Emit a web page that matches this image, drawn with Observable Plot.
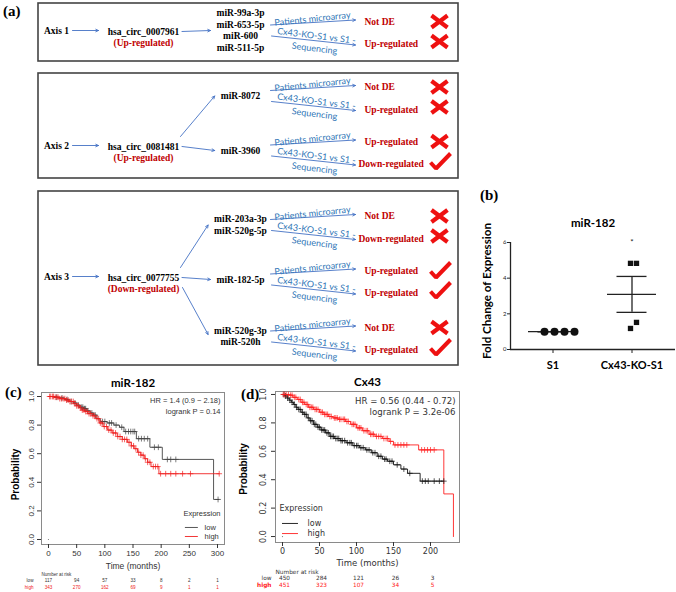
<!DOCTYPE html>
<html><head><meta charset="utf-8">
<script src="https://cdn.jsdelivr.net/npm/d3@7"></script>
<script src="https://cdn.jsdelivr.net/npm/@observablehq/plot@0.6"></script>
<style>
body{margin:0;background:#fff}
#fig{position:relative;width:676px;height:592px;overflow:hidden;background:#fff}
#fig svg{position:absolute;overflow:visible}
.plabel{position:absolute;font-family:"Liberation Serif";font-weight:bold;font-size:15px;line-height:1;color:#000}
</style></head><body><div id="fig"></div>
<script>
// ================= DATA =================
// (a) flow diagram
const axisNames = ["Axis 1", "Axis 2", "Axis 3"];
const circRNAs = ["hsa_circ_0007961", "hsa_circ_0081481", "hsa_circ_0077755"];
const circRegulation = ["(Up-regulated)", "(Up-regulated)", "(Down-regulated)"];
const miRNAGroups = [
  [["miR-99a-3p", "miR-653-5p", "miR-600", "miR-511-5p"]],
  [["miR-8072"], ["miR-3960"]],
  [["miR-203a-3p", "miR-520g-5p"], ["miR-182-5p"], ["miR-520g-3p", "miR-520h"]]
];
const sourceLabels = ["Patients microarray", "Cx43-KO-S1 vs S1 -", "Sequencing"];
const microarrayResults = [["Not DE"], ["Not DE", "Up-regulated"], ["Not DE", "Up-regulated", "Not DE"]];
const sequencingResults = [["Up-regulated"], ["Up-regulated", "Down-regulated"], ["Down-regulated", "Up-regulated", "Up-regulated"]];
const microarrayConsistent = [[false], [false, false], [false, true, false]];
const sequencingConsistent = [[false], [false, true], [false, true, true]];

// (b) qPCR fold change
const qpcrGroups = ["S1", "Cx43-KO-S1"];
const qpcrS1 = [1.0, 1.0, 1.0, 1.0];
const qpcrKO = [4.83, 4.83, 1.18, 1.52];
const qpcrTicks = [0, 2, 4, 6];

// (c) KM miR-182
const mir182LowTime = [0, 10, 18, 28, 36, 44, 50, 56, 62, 68, 74, 80, 86, 92, 104, 116, 126, 134, 156, 180, 202, 293, 303];
const mir182LowSurv = [1.0, 0.995, 0.99, 0.98, 0.965, 0.955, 0.94, 0.925, 0.915, 0.90, 0.885, 0.87, 0.845, 0.825, 0.815, 0.80, 0.785, 0.755, 0.705, 0.645, 0.56, 0.28, 0.28];
const mir182LowCensor = [14, 24, 33, 40, 47, 53, 59, 61, 64, 66, 70, 77, 83, 96, 100, 108, 112, 120, 130, 137, 142, 146, 150, 153, 160, 165, 170, 176, 188, 195, 211, 217, 226, 301];
const mir182HighTime = [0, 10, 20, 30, 38, 45, 50, 55, 60, 65, 70, 78, 84, 90, 97, 105, 113, 122, 131, 140, 147, 152, 158, 164, 170, 176, 182, 196, 303];
const mir182HighSurv = [1.0, 0.995, 0.985, 0.975, 0.965, 0.95, 0.935, 0.92, 0.905, 0.895, 0.88, 0.865, 0.845, 0.815, 0.79, 0.765, 0.745, 0.72, 0.70, 0.68, 0.655, 0.635, 0.61, 0.59, 0.565, 0.54, 0.51, 0.46, 0.46];
const mir182HighCensor = [2, 4, 7, 9, 12, 15, 17, 20, 23, 26, 29, 32, 35, 38, 41, 44, 47, 50, 53, 57, 60, 63, 66, 69, 72, 75, 79, 82, 86, 89, 92, 95, 99, 103, 107, 111, 115, 119, 123, 127, 131, 135, 139, 143, 147, 151, 155, 160, 164, 168, 172, 176, 180, 186, 190, 194, 199, 208, 217, 226, 238, 252, 303];
const mir182RiskTimes = [0, 50, 100, 150, 200, 250, 300];
const mir182RiskLow = [117, 94, 57, 33, 8, 2, 1];
const mir182RiskHigh = [343, 270, 162, 69, 9, 1, 1];

// (d) KM Cx43
const cx43LowTime = [0, 3, 6, 9, 12, 15, 18, 21, 25, 29, 33, 37, 42, 47, 52, 58, 64, 70, 78, 86, 95, 104, 112, 120, 128, 135, 142, 150, 160, 169, 186, 218];
const cx43LowSurv = [1.0, 0.99, 0.975, 0.96, 0.945, 0.93, 0.91, 0.895, 0.875, 0.86, 0.835, 0.815, 0.79, 0.77, 0.75, 0.73, 0.705, 0.69, 0.675, 0.66, 0.64, 0.625, 0.61, 0.59, 0.565, 0.545, 0.53, 0.505, 0.475, 0.445, 0.39, 0.39];
const cx43LowCensor = [2, 4, 7, 10, 13, 16, 19, 22, 24, 27, 30, 32, 35, 38, 40, 43, 45, 48, 50, 53, 55, 57, 60, 62, 65, 67, 69, 72, 74, 76, 79, 81, 84, 88, 91, 93, 97, 100, 102, 106, 109, 114, 117, 122, 125, 130, 133, 138, 140, 145, 148, 155, 164, 172, 189, 193, 197, 205, 212, 218];
const cx43HighTime = [0, 9, 14, 20, 25, 30, 35, 42, 50, 56, 62, 68, 75, 85, 92, 100, 108, 117, 125, 135, 144, 150, 184, 218, 231];
const cx43HighSurv = [1.0, 0.995, 0.98, 0.965, 0.945, 0.93, 0.91, 0.895, 0.875, 0.86, 0.845, 0.835, 0.825, 0.81, 0.79, 0.765, 0.745, 0.72, 0.705, 0.69, 0.67, 0.645, 0.61, 0.30, 0.0];
const cx43HighCensor = [1, 3, 5, 8, 11, 13, 16, 18, 22, 24, 27, 29, 32, 34, 37, 39, 41, 44, 46, 48, 52, 54, 57, 59, 61, 64, 66, 70, 72, 74, 77, 79, 82, 84, 87, 89, 94, 96, 98, 102, 104, 106, 110, 113, 115, 119, 121, 123, 127, 130, 133, 137, 140, 142, 146, 152, 156, 160, 164, 168, 188, 192, 196, 200, 205];
const cx43RiskTimes = [0, 50, 100, 150, 200];
const cx43RiskLow = [450, 284, 121, 26, 3];
const cx43RiskHigh = [451, 323, 107, 34, 5];

// ================= HELPERS =================
const fig = document.getElementById("fig");
function place(svg, left, top) { svg.style.left = left + "px"; svg.style.top = top + "px"; fig.appendChild(svg); }
function label(t, left, top) { const d = document.createElement("div"); d.className = "plabel"; d.textContent = t; d.style.left = left + "px"; d.style.top = top + "px"; fig.appendChild(d); }
const ctx = document.createElement("canvas").getContext("2d");
function tw(s, font) { ctx.font = font; return ctx.measureText(s).width; }
const stepAt = (T, S, t) => { let v = S[0]; for (let i = 0; i < T.length; i++) if (T[i] <= t) v = S[i]; return v; };

// ================= (a) DIAGRAM =================
{
  const L = {
    boxes: [[3, 61], [73, 178], [191, 365]], boxX: [38, 458],
    axisRow: [30, 145, 276],
    groups: [[32.5], [98, 152.5], [227, 281.5, 338.5]],
    axisX: 56, circX: 143, mirX: 240, resX: 364, markX: 439
  };
  const serif = "Liberation Serif", fs = 9.5;
  const serifFont = `bold ${fs}px "Liberation Serif"`;
  const blackT = [], redMid = [], redStart = [], blueT = [], arrows = [], blueArrows = [], crosses = [], checks = [];
  axisNames.forEach((name, i) => {
    const y = L.axisRow[i];
    blackT.push({x: L.axisX, y, text: name});
    arrows.push({x1: 72, y1: y, x2: 98, y2: y});
    blackT.push({x: L.circX, y: y + 1, text: circRNAs[i]});
    redMid.push({x: L.circX, y: y + 12.5, text: circRegulation[i]});
    miRNAGroups[i].forEach((mirs, j) => {
      const c = L.groups[i][j], m = c - 2.5, n = mirs.length;
      mirs.forEach((s, k) => blackT.push({x: L.mirX, y: m + (k - (n - 1) / 2) * 11.7, text: s}));
      const w = d3.max(mirs, s => tw(s, serifFont));
      const ex = L.mirX - w / 2 - 6;
      const dy = m - y;
      if (dy < -10) arrows.push({x1: 180, y1: y - 9, x2: ex, y2: m});
      else if (dy > 10) arrows.push({x1: 182, y1: y + 11, x2: ex, y2: m - 2});
      else arrows.push({x1: 181.5, y1: y + 1, x2: ex, y2: m});
      // validation sources
      blueT.push({x: 312, y: c - 14, text: sourceLabels[0], rotate: -6});
      blueArrows.push({x1: 270, y1: c - 8, x2: 355, y2: c - 13});
      blueT.push({x: 316, y: c + 3, text: sourceLabels[1], rotate: 7});
      blueArrows.push({x1: 271, y1: c + 3, x2: 355, y2: c + 12});
      blueT.push({x: 314, y: c + 15.5, text: sourceLabels[2], rotate: 7});
      const r1 = c - 11.5, r2 = c + 11;
      [[microarrayResults[i][j], r1, microarrayConsistent[i][j], 0], [sequencingResults[i][j], r2, sequencingConsistent[i][j], -2.5]].forEach(([txt, ry, ok, off]) => {
        const x = txt.length > 12 ? L.resX - 6 : L.resX;
        redStart.push({x, y: ry, text: txt});
        const my = ry + off;
        if (ok) {
          const id = checks.length;
          checks.push({id, x: L.markX - 9, y: my + 1}, {id, x: L.markX - 3.5, y: my + 7}, {id, x: L.markX + 11, y: my - 8});
        } else {
          crosses.push({x1: L.markX - 8, y1: my - 6, x2: L.markX + 8, y2: my + 6});
          crosses.push({x1: L.markX - 8, y1: my + 6, x2: L.markX + 8, y2: my - 6});
        }
      });
    });
  });
  const svg = Plot.plot({
    width: 676, height: 370, margin: 0,
    x: {type: "identity", axis: null}, y: {type: "identity", axis: null},
    style: {background: "none"},
    marks: [
      Plot.rect(L.boxes, {x1: L.boxX[0], x2: L.boxX[1], y1: d => d[0], y2: d => d[1], fill: "none", stroke: "#444", strokeWidth: 1.6}),
      Plot.arrow(arrows, {x1: "x1", y1: "y1", x2: "x2", y2: "y2", stroke: "#4472C4", strokeWidth: 0.9, headLength: 5, headAngle: 50}),
      Plot.arrow(blueArrows, {x1: "x1", y1: "y1", x2: "x2", y2: "y2", stroke: "#4472C4", strokeWidth: 0.9, headLength: 5, headAngle: 50}),
      Plot.text(blackT, {x: "x", y: "y", text: "text", fontFamily: serif, fontWeight: "bold", fontSize: fs, fill: "#000"}),
      Plot.text(redMid, {x: "x", y: "y", text: "text", textAnchor: "middle", fontFamily: serif, fontWeight: "bold", fontSize: fs, fill: "#C00000"}),
      Plot.text(redStart, {x: "x", y: "y", text: "text", textAnchor: "start", fontFamily: serif, fontWeight: "bold", fontSize: fs, fill: "#C00000"}),
      Plot.text(blueT, {x: "x", y: "y", text: "text", rotate: "rotate", textAnchor: "middle", fontFamily: "Lato", fontSize: 9, fill: "#2E75B6"}),
      Plot.link(crosses, {x1: "x1", y1: "y1", x2: "x2", y2: "y2", stroke: "#EE1111", strokeWidth: 4.2}),
      Plot.line(checks, {x: "x", y: "y", z: "id", stroke: "#EE1111", strokeWidth: 4, strokeLinejoin: "miter", strokeLinecap: "butt"})
    ]
  });
  place(svg, 0, 0);
}

// ================= (b) DOT PLOT =================
{
  const stats = [qpcrS1, qpcrKO].map((arr, k) => {
    const mean = d3.mean(arr), sem = (d3.deviation(arr) || 0) / Math.sqrt(arr.length);
    return {g: qpcrGroups[k], mean, lo: mean - sem, hi: mean + sem};
  });
  const axisCol = "#222";
  const s1Dots = qpcrS1.map((v, i) => Plot.dot([v], {x: () => qpcrGroups[0], y: d => d, dx: 10 * i - 8.5, r: 4, fill: "#111", stroke: "none"}));
  const koDots = qpcrKO.map((v, i) => Plot.dot([v], {x: () => qpcrGroups[1], y: d => d, dx: i % 2 ? 4.5 : -1.5, r: 3, symbol: "square", fill: "#111", stroke: "none"}));
  const svg = Plot.plot({
    width: 206, height: 175,
    marginLeft: 40, marginRight: 1, marginTop: 37, marginBottom: 31,
    x: {domain: qpcrGroups, paddingInner: 0.375, paddingOuter: 0.219, axis: null},
    y: {domain: [0, 6], axis: null},
    style: {fontFamily: "Lato", background: "none", color: axisCol},
    marks: [
      // y-axis line at the left edge of the frame
      Plot.ruleX([qpcrGroups[0]], {y1: 0, y2: 6, dx: -42.5, stroke: axisCol, strokeWidth: 1.3}),
      Plot.ruleY([0], {stroke: axisCol, strokeWidth: 1.3}),
      Plot.axisY({ticks: qpcrTicks, tickSize: 3, tickPadding: 1, fontSize: 6, tickFormat: d => d, label: null}),
      Plot.axisX({tickSize: 4, tickPadding: 8, fontSize: 11, fontWeight: "bold", label: null, fill: "#000"}),
      Plot.text(["Fold Change of Expression"], {frameAnchor: "left", textAnchor: "middle", dx: -23, dy: -5, rotate: -90, fontSize: 11.6, fontWeight: "bold", fill: "#000"}),
      Plot.text(["miR-182"], {frameAnchor: "top", textAnchor: "middle", dy: -24, fontSize: 11.5, fontWeight: "bold", fill: "#000"}),
      Plot.tickY(stats, {x: "g", y: "mean", stroke: axisCol, strokeWidth: 1.3}),
      Plot.tickY(stats, {x: "g", y: "lo", stroke: axisCol, strokeWidth: 1.3, insetLeft: 9.5, insetRight: 9.5}),
      Plot.tickY(stats, {x: "g", y: "hi", stroke: axisCol, strokeWidth: 1.3, insetLeft: 9.5, insetRight: 9.5}),
      Plot.ruleX(stats, {x: "g", y1: "lo", y2: "hi", stroke: axisCol, strokeWidth: 1.3}),
      ...s1Dots, ...koDots,
      Plot.text(["*"], {x: () => qpcrGroups[1], y: () => 6, fontSize: 8, fill: "#222"})
    ]
  });
  place(svg, 470, 205);
}

// ================= (c), (d) KAPLAN–MEIER =================
function kmPlot(cfg) {
  const low = cfg.lowT.map((t, i) => ({t, s: cfg.lowS[i]}));
  const high = cfg.highT.map((t, i) => ({t, s: cfg.highS[i]}));
  const lowC = cfg.lowCens.map(t => ({t, s: stepAt(cfg.lowT, cfg.lowS, t)}));
  const highC = cfg.highCens.map(t => ({t, s: stepAt(cfg.highT, cfg.highS, t)}));
  const yTicks = [0, 0.2, 0.4, 0.6, 0.8, 1.0];
  const F = cfg.font;
  return Plot.plot({
    width: cfg.width, height: cfg.height,
    marginLeft: cfg.m[0], marginRight: cfg.m[1], marginTop: cfg.m[2], marginBottom: cfg.m[3],
    x: {domain: cfg.xDomain, axis: null}, y: {domain: cfg.yDomain, axis: null},
    style: {fontFamily: F, fontSize: "8px", color: "#333", background: "none"},
    marks: [
      Plot.frame({stroke: "#8a8a8a", strokeWidth: 1}),
      Plot.axisX({ticks: cfg.xTicks, tickSize: 4, tickPadding: 2, label: null, fontSize: cfg.tickFs}),
      Plot.axisY({ticks: yTicks, tickSize: 4, tickFormat: () => "", label: null}),
      Plot.text(yTicks, {y: d => d, text: d => d.toFixed(1), frameAnchor: "left", textAnchor: "middle", dx: cfg.yLabDx, rotate: -90, fontSize: cfg.tickFs, fill: "#333"}),
      Plot.line(low, {x: "t", y: "s", curve: "step-after", stroke: cfg.lowColor, strokeWidth: 0.9}),
      Plot.line(high, {x: "t", y: "s", curve: "step-after", stroke: cfg.highColor, strokeWidth: 0.9}),
      Plot.dot(lowC, {x: "t", y: "s", symbol: "plus", r: 2, stroke: cfg.lowColor, strokeWidth: 0.7}),
      Plot.dot(highC, {x: "t", y: "s", symbol: "plus", r: 2, stroke: cfg.highColor, strokeWidth: 0.7}),
      Plot.dot([0], {x: () => 0, y: () => 0, r: 0.6, fill: "#777", stroke: "none"}),
      Plot.text([cfg.title], {frameAnchor: "top", textAnchor: "middle", dy: cfg.titleDy, fontFamily: "Lato", fontWeight: "bold", fontSize: 11.5, fill: "#000"}),
      Plot.text(["Probability"], {frameAnchor: "left", textAnchor: "middle", dx: cfg.probDx, dy: cfg.probDy, rotate: -90, fontFamily: "Liberation Sans", fontWeight: "bold", fontSize: 10, fill: "#000"}),
      Plot.text(["Time (months)"], {frameAnchor: "bottom", textAnchor: "middle", dy: cfg.timeDy, fontSize: 8.5, fill: "#333"}),
      Plot.text([cfg.hr], {frameAnchor: "top-right", textAnchor: "end", dx: -4, dy: cfg.hrDy, fontSize: cfg.hrFs, fill: "#333"}),
      Plot.text([cfg.logrank], {frameAnchor: "top-right", textAnchor: "end", dx: -4, dy: cfg.hrDy + 11, fontSize: cfg.hrFs, fill: "#333"}),
      // legend
      Plot.text(["Expression"], {frameAnchor: cfg.leg.anchor, textAnchor: cfg.leg.textAnchor, dx: cfg.leg.dx, dy: cfg.leg.dy, fontSize: cfg.leg.fs, fill: "#333"}),
      Plot.ruleY([cfg.leg.yLow], {x1: cfg.leg.x1, x2: cfg.leg.x2, stroke: cfg.lowColor, strokeWidth: 0.9}),
      Plot.ruleY([cfg.leg.yHigh], {x1: cfg.leg.x1, x2: cfg.leg.x2, stroke: cfg.highColor, strokeWidth: 0.9}),
      Plot.text(["low"], {x: () => cfg.leg.tx, y: () => cfg.leg.yLow, textAnchor: "start", fontSize: cfg.leg.fs, fill: "#333"}),
      Plot.text(["high"], {x: () => cfg.leg.tx, y: () => cfg.leg.yHigh, textAnchor: "start", fontSize: cfg.leg.fs, fill: "#333"}),
      // number at risk
      Plot.text(["Number at risk"], {frameAnchor: "bottom-left", textAnchor: "start", dy: cfg.risk.dy, fontSize: cfg.risk.fs, fill: "#333"}),
      Plot.text(["low"], {frameAnchor: "bottom-left", textAnchor: "end", dx: cfg.risk.labDx, dy: cfg.risk.dy + 6.5, fontSize: cfg.risk.fs, fill: "#333"}),
      Plot.text(["high"], {frameAnchor: "bottom-left", textAnchor: "end", dx: cfg.risk.labDx, dy: cfg.risk.dy + 13, fontSize: cfg.risk.fs, fill: cfg.highColor, fontWeight: cfg.risk.highBold ? "bold" : "normal"}),
      Plot.text(cfg.riskT, {x: d => d, text: (d, i) => cfg.riskLow[i], frameAnchor: "bottom", textAnchor: "middle", dx: cfg.risk.valDx, dy: cfg.risk.dy + 6.5, fontSize: cfg.risk.fs, fill: "#333"}),
      Plot.text(cfg.riskT, {x: d => d, text: (d, i) => cfg.riskHigh[i], frameAnchor: "bottom", textAnchor: "middle", dx: cfg.risk.valDx, dy: cfg.risk.dy + 13, fontSize: cfg.risk.fs, fill: cfg.highColor})
    ]
  });
}

place(kmPlot({
  width: 235, height: 222, m: [41, 11, 22, 48],
  xDomain: [-12.4, 312.4], yDomain: [-0.035, 1.028], xTicks: [0, 50, 100, 150, 200, 250, 300],
  font: "Liberation Sans", tickFs: 8, yLabDx: -10,
  lowT: mir182LowTime, lowS: mir182LowSurv, lowCens: mir182LowCensor,
  highT: mir182HighTime, highS: mir182HighSurv, highCens: mir182HighCensor,
  lowColor: "#444", highColor: "#F02020",
  title: "miR-182", titleDy: -14, probDx: -26, probDy: 6, timeDy: 24,
  hr: "HR = 1.4 (0.9 \u2212 2.18)", logrank: "logrank P = 0.14", hrDy: 5, hrFs: 7.5,
  leg: {anchor: "bottom-right", textAnchor: "end", dx: -4, dy: -29, fs: 7.5, x1: 243, x2: 266, tx: 277, yLow: 0.084, yHigh: 0.021},
  risk: {dy: 31, fs: 4.6, labDx: -8, valDx: 0, highBold: false},
  riskT: mir182RiskTimes, riskLow: mir182RiskLow, riskHigh: mir182RiskHigh
}), 0, 370);

place(kmPlot({
  width: 240, height: 222, m: [43, 13, 21, 50],
  xDomain: [-9.46, 239.2], yDomain: [-0.042, 1.021], xTicks: [0, 50, 100, 150, 200],
  font: "DejaVu Sans", tickFs: 8, yLabDx: -12,
  lowT: cx43LowTime, lowS: cx43LowSurv, lowCens: cx43LowCensor,
  highT: cx43HighTime, highS: cx43HighSurv, highCens: cx43HighCensor,
  lowColor: "#111", highColor: "#FF2020",
  title: "Cx43", titleDy: -14, probDx: -32, probDy: 2, timeDy: 23,
  hr: "HR = 0.56 (0.44 - 0.72)", logrank: "logrank P = 3.2e-06", hrDy: 6, hrFs: 8.6,
  leg: {anchor: "bottom-left", textAnchor: "start", dx: 4, dy: -32, fs: 8, x1: 0, x2: 21.6, tx: 33.8, yLow: 0.092, yHigh: 0.021},
  risk: {dy: 31, fs: 5.8, labDx: -4, valDx: 2, highBold: true},
  riskT: cx43RiskTimes, riskLow: cx43RiskLow, riskHigh: cx43RiskHigh
}), 232, 370);

label("(a)", 3, 4);
label("(b)", 480, 188);
label("(c)", 5, 385);
label("(d)", 241, 387);
</script></body></html>
